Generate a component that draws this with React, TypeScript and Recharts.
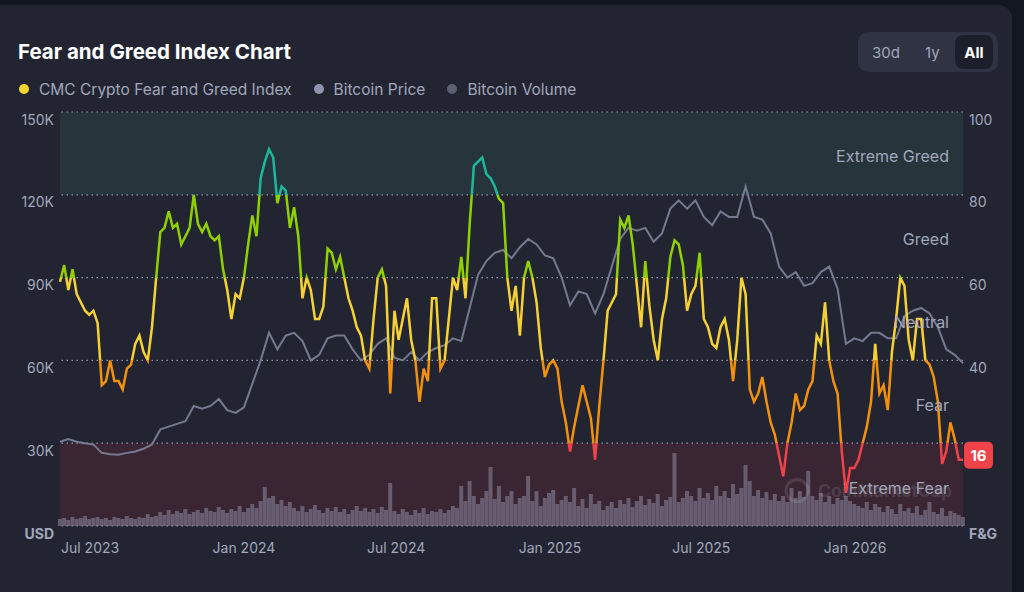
import { ComposedChart, Line, Bar, XAxis, YAxis, ReferenceArea, ReferenceLine, ReferenceDot } from "recharts";

const DAY = 86400000;
const startDate = Date.UTC(2023, 4, 26);
const stepDays = 5;

// CMC Fear & Greed index, one reading every 5 days
const fngValues = [
  59, 63, 57, 62, 56, 54, 52, 51, 52, 49,
  34, 35, 40, 35, 35, 33, 38, 39, 44, 46,
  42, 40, 48, 60, 71, 72, 76, 72, 73, 68,
  70, 72, 80, 73, 71, 73, 70, 69, 70, 62,
  57, 50, 56, 55, 60, 68, 75, 70, 84, 88,
  91, 89, 78, 82, 81, 72, 77, 70, 55, 60,
  57, 50, 50, 53, 67, 66, 62, 65, 60, 55,
  52, 48, 46, 40, 38, 50, 60, 62, 58, 32,
  52, 45, 50, 55, 45, 40, 30, 38, 35, 55,
  55, 38, 40, 50, 60, 57, 65, 55, 73, 87,
  88, 89, 85, 84, 82, 79, 78, 60, 52, 58,
  46, 60, 64, 60, 54, 43, 36, 39, 40, 38,
  30, 25, 18, 24, 29, 34, 30, 26, 16, 29,
  40, 52, 54, 56, 74, 72, 75, 68, 58, 48,
  64, 53, 45, 40, 50, 55, 65, 69, 68, 63,
  52, 56, 58, 66, 50, 48, 44, 43, 48, 50,
  45, 35, 45, 60, 56, 33, 30, 32, 36, 30,
  25, 22, 17, 12, 20, 25, 32, 28, 29, 33,
  35, 46, 44, 54, 40, 35, 32, 18, 8, 14,
  14, 16, 20, 24, 30, 44, 32, 34, 28, 42,
  50, 60, 58, 45, 40, 50, 50, 40, 39, 36,
  30, 15, 18, 25, 21, 16, 16,
];

// Bitcoin price in thousands USD, one reading every 10 days
const priceK = [
  30.5, 31.5, 30.5, 30, 29.5, 26.5, 26, 25.8, 26.5, 27, 28, 29.5, 35, 36, 37, 38, 43.5, 42.5, 43.5, 46, 42, 41, 43, 51.5, 60, 70, 64, 69,
  70, 67, 60, 62, 68, 69, 69, 64, 60, 62, 66, 68, 61, 60, 63, 60, 63, 64.5, 65.5, 68, 67, 79, 91, 96, 99, 100, 97,
  101, 104, 102, 98, 97, 90, 80, 85, 84, 77, 84, 94, 104, 108, 107, 108, 103, 106, 115, 118, 115, 118, 112, 109, 114, 112, 112, 123,
  112, 111, 106, 94, 90, 92, 87, 88, 92, 94, 86, 66, 68, 67, 70, 70, 68, 68, 76, 78, 79, 77, 72, 64, 62, 59,
];

// Bitcoin volume (billions USD), one reading every 5 days
const volumeB = [
  7, 8, 6, 9, 7, 8, 10, 7, 8, 9, 7, 8, 6, 9, 8, 7, 10, 8, 7, 9, 8, 12, 9,
  10, 14, 11, 16, 12, 15, 13, 17, 12, 14, 16, 13, 18, 15, 14, 19, 16, 13, 17, 15, 20, 14, 18,
  22, 18, 25, 39, 28, 30, 22, 26, 20, 24,
  18, 15, 20, 14, 17, 21, 16, 13, 18, 15, 19, 14, 17, 12, 16, 20, 15, 18, 14, 17, 13, 19, 16,
  43,
  15, 12, 17, 14, 11, 16, 13, 18, 12, 15, 14, 17, 13, 16, 20, 18,
  40, 25, 45, 30, 22, 28, 35, 59, 27, 40, 24, 30, 35, 22, 28,
  30, 50, 25, 35, 20, 28, 33, 36, 22, 26, 30, 24, 38, 20, 27, 18, 32, 22, 25, 16,
  20, 24, 18, 26, 22, 28, 19, 25, 30, 21, 27, 23, 32, 20, 26, 29, 73, 24, 28, 35,
  30, 25, 38, 28, 33, 26, 40, 30, 35, 28, 42, 32, 38, 61, 45, 30, 36, 28, 34, 26,
  32, 25, 30, 24, 38, 28, 35, 29, 55, 30, 26, 33, 24, 30, 22, 28, 26, 30, 25, 22,
  20, 18, 24, 16, 22, 19, 14, 20, 17, 12, 22, 15, 18, 13, 20, 11, 16, 24, 14, 12, 18, 10, 15, 13, 11, 9,
];

const monthTicks = [Date.UTC(2023, 6, 1), Date.UTC(2024, 0, 1), Date.UTC(2024, 6, 1), Date.UTC(2025, 0, 1), Date.UTC(2025, 6, 1), Date.UTC(2026, 0, 1)];
const monthLabels = ["Jul 2023", "Jan 2024", "Jul 2024", "Jan 2025", "Jul 2025", "Jan 2026"];
const usdTicks = [0, 30, 60, 90, 120, 150];
const gridLevels = [0, 20, 40, 60, 80, 100];
// 20 sits under the current-value badge, so the reference shows no label there
const fgTicks = [0, 40, 60, 80, 100];
const zoneNames = ["Extreme Greed", "Greed", "Neutral", "Fear", "Extreme Fear"];
const zoneMids = [90, 70, 50, 30, 10];

const data = fngValues.map((v, i) => ({
  t: startDate + i * stepDays * DAY,
  fng: v,
  price: i % 2 === 0 ? priceK[i / 2] : null,
  volume: volumeB[i],
}));
const endDate = data[data.length - 1].t;
const lastValue = fngValues[fngValues.length - 1];

const muted = "#a1a7bb";

const LeftTick = ({ y, payload }: any) => (
  <text x={54} y={y + 7} textAnchor="end" dominantBaseline="central" fill={muted} fontSize={14} fontWeight={payload.value === 0 ? 700 : 400}>
    {payload.value === 0 ? "USD" : `${payload.value}K`}
  </text>
);

const RightTick = ({ y, payload }: any) => (
  <text x={969} y={y + 7} textAnchor="start" dominantBaseline="central" fill={muted} fontSize={14} fontWeight={payload.value === 0 ? 700 : 400}>
    {payload.value === 0 ? "F&G" : payload.value}
  </text>
);

const DateTick = ({ x, y, payload }: any) => (
  <text x={x} y={y + 21} textAnchor="middle" dominantBaseline="central" fill={muted} fontSize={14}>
    {monthLabels[monthTicks.indexOf(payload.value)]}
  </text>
);

const LegendItem = ({ color, text }: { color: string; text: string }) => (
  <div style={{ display: "flex", alignItems: "center", marginRight: 22 }}>
    <span style={{ width: 10, height: 10, borderRadius: 5, background: color, marginRight: 10 }} />
    <span>{text}</span>
  </div>
);

export default function App() {
  return (
    <div style={{ position: "absolute", left: 0, top: 0, width: 1024, height: 592, background: "#131722", overflow: "hidden", fontFamily: "Inter, sans-serif" }}>
      <div style={{ position: "absolute", left: 0, top: 5, width: 1012, height: 600, background: "#222531", borderTopRightRadius: 14 }} />
      <div style={{ position: "absolute", left: 18, top: 39, fontSize: 20.5, lineHeight: "26px", fontWeight: 700, color: "#ffffff" }}>
        Fear and Greed Index Chart
      </div>
      <div style={{ position: "absolute", left: 19, top: 79, height: 20, display: "flex", fontSize: 15.5, color: muted }}>
        <LegendItem color="#f3d42f" text="CMC Crypto Fear and Greed Index" />
        <LegendItem color="#9294ab" text="Bitcoin Price" />
        <LegendItem color="#5d6073" text="Bitcoin Volume" />
      </div>
      <div style={{ position: "absolute", left: 858, top: 32, width: 140, height: 40, borderRadius: 10, background: "#2f3344", fontSize: 15, color: muted }}>
        <span style={{ position: "absolute", left: 14, top: 11 }}>30d</span>
        <span style={{ position: "absolute", left: 67, top: 11 }}>1y</span>
        <span style={{ position: "absolute", left: 97, top: 3, width: 38, height: 34, borderRadius: 8, background: "#1c1f2b", color: "#ffffff", fontWeight: 700, display: "flex", alignItems: "center", justifyContent: "center" }}>All</span>
      </div>
      <div style={{ position: "absolute", left: 0, top: 0 }}>
        <ComposedChart width={1024} height={592} data={data} margin={{ top: 112, right: 10, bottom: 26, left: 10 }}>
          <defs>
            <linearGradient id="fgStroke" gradientUnits="userSpaceOnUse" x1="0" y1="112" x2="0" y2="526">
              <stop offset="0" stopColor="#1db89a" />
              <stop offset="0.2" stopColor="#1db89a" />
              <stop offset="0.2" stopColor="#8fd000" />
              <stop offset="0.4" stopColor="#8fd000" />
              <stop offset="0.4" stopColor="#f5d135" />
              <stop offset="0.6" stopColor="#f5d135" />
              <stop offset="0.6" stopColor="#f2910f" />
              <stop offset="0.8" stopColor="#f2910f" />
              <stop offset="0.8" stopColor="#ef4249" />
              <stop offset="1" stopColor="#ef4249" />
            </linearGradient>
          </defs>
          <XAxis
            dataKey="t"
            type="number"
            domain={[startDate, endDate]}
            ticks={monthTicks}
            tick={<DateTick />}
            tickSize={0}
            tickMargin={0}
            axisLine={false}
            tickLine={false}
            height={40}
          />
          <YAxis yAxisId="usd" orientation="left" domain={[0, 150]} ticks={usdTicks} tick={<LeftTick />} tickSize={0} axisLine={false} tickLine={false} width={50} />
          <YAxis yAxisId="fg" orientation="right" domain={[0, 100]} ticks={fgTicks} tick={<RightTick />} tickSize={0} axisLine={false} tickLine={false} width={51} />
          <YAxis yAxisId="vol" hide domain={[0, 414]} />
          <ReferenceArea yAxisId="fg" y1={80} y2={100} fill="#26343b" fillOpacity={1} stroke="none" />
          <ReferenceArea yAxisId="fg" y1={0} y2={20} fill="#3a2633" fillOpacity={1} stroke="none" />
          <ReferenceDot
            yAxisId="fg"
            x={endDate}
            y={10}
            shape={(p: any) => (
              <g opacity={0.1} fill="#ffffff">
                <circle cx={p.cx - 166} cy={p.cy + 6} r={11} fill="none" stroke="#ffffff" strokeWidth={3} />
                <text x={p.cx - 145} y={p.cy + 6} dominantBaseline="central" fontSize={17.5} fontWeight={700}>CoinMarketCap</text>
              </g>
            )}
          />
          {gridLevels.map((v) => (
            <ReferenceLine key={v} yAxisId="fg" y={v} stroke="#9298ad" strokeWidth={1.2} strokeDasharray="1.5 3.5" />
          ))}
          <Bar yAxisId="vol" dataKey="volume" fill="#8e8aa3" fillOpacity={0.55} barSize={4} isAnimationActive={false} />
          <Line yAxisId="usd" dataKey="price" stroke="#767990" strokeWidth={2} dot={false} connectNulls isAnimationActive={false} />
          <Line yAxisId="fg" dataKey="fng" stroke="url(#fgStroke)" strokeWidth={2.5} dot={false} isAnimationActive={false} />
          {zoneNames.map((name, k) => (
            <ReferenceDot
              key={name}
              yAxisId="fg"
              x={endDate}
              y={zoneMids[k]}
              shape={(p: any) => (
                <text x={p.cx - 14} y={p.cy + 3} textAnchor="end" dominantBaseline="central" fill={muted} fontSize={16}>
                  {name}
                </text>
              )}
            />
          ))}
          <ReferenceDot
            yAxisId="fg"
            x={endDate}
            y={lastValue}
            shape={(p: any) => (
              <g>
                <rect x={p.cx + 1} y={p.cy - 18} width={29} height={27} rx={5} fill="#ef4249" />
                <text x={p.cx + 15.5} y={p.cy - 4.5} textAnchor="middle" dominantBaseline="central" fill="#ffffff" fontSize={15} fontWeight={700}>
                  {lastValue}
                </text>
              </g>
            )}
          />
        </ComposedChart>
      </div>
    </div>
  );
}
